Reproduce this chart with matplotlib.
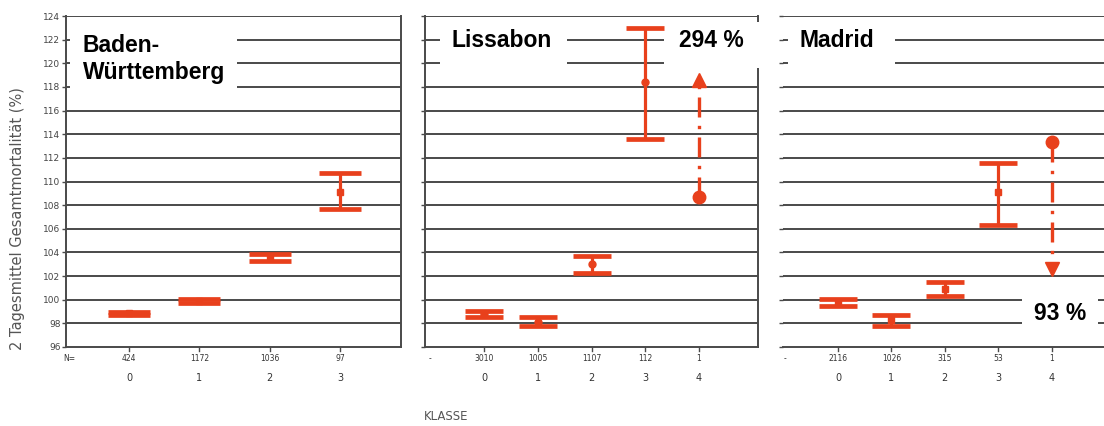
import numpy as np
import matplotlib
matplotlib.use('Agg')
import matplotlib.pyplot as plt
from matplotlib.patches import Rectangle

RED = '#e8401c'
GRID = '#4a4a4a'
GREY = '#555555'

# panel data (mean and confidence limits per KLASSE)
bw_klasse = [0, 1, 2, 3]
bw_n = ['424', '1172', '1036', '97']
bw_mean = [98.87, 99.9, 103.6, 109.1]
bw_lo = [98.73, 99.75, 103.3, 107.7]
bw_hi = [99.0, 100.08, 103.9, 110.7]

li_klasse = [0, 1, 2, 3, 4]
li_n = ['3010', '1005', '1107', '112', '1']
li_mean = [98.8, 98.1, 103.0, 118.4]
li_lo = [98.57, 97.75, 102.3, 113.6]
li_hi = [99.07, 98.5, 103.7, 123.0]
li_arrow = (108.7, 118.6)   # single day, value -> 294 %

ma_klasse = [0, 1, 2, 3, 4]
ma_n = ['2116', '1026', '315', '53', '1']
ma_mean = [99.8, 98.25, 100.9, 109.1]
ma_lo = [99.5, 97.8, 100.3, 106.3]
ma_hi = [100.08, 98.73, 101.5, 111.6]
ma_arrow = (113.3, 102.6)   # -> 93 %

yticks = np.arange(96, 125, 2)

fig = plt.figure(figsize=(11.04, 4.26), dpi=100)

H = 426.0
W = 1104.0
bottom = (H - 347) / H
height = (347 - 16) / H

def make_ax(x0, x1, xlim):
    ax = fig.add_axes([x0 / W, bottom, (x1 - x0) / W, height])
    ax.set_xlim(*xlim)
    ax.set_ylim(96, 124)
    ax.set_yticks(yticks)
    ax.set_xticks([])
    for y in yticks[1:]:
        ax.axhline(y, color=GRID, lw=1.4, zorder=1)
    for s in ax.spines.values():
        s.set_color(GRID)
        s.set_linewidth(1.4)
    ax.spines['top'].set_visible(False)
    ax.tick_params(axis='y', length=3, width=1, color=GRID, labelsize=6.5,
                   labelcolor='#444444', pad=1)
    return ax

def draw_bars(ax, klasse, mean, lo, hi, capsize, mk):
    n = len(mean)
    x = np.array(klasse[:n])
    m = np.array(mean)
    err = [m - np.array(lo), np.array(hi) - m]
    ax.errorbar(x, m, yerr=err, fmt=mk, ms=5, color=RED, ecolor=RED,
                elinewidth=2.3, capsize=capsize, capthick=3.4, zorder=4)

def draw_arrow(ax, xpos, start, end):
    ax.plot([xpos, xpos], [start, end], color=RED, lw=2.4,
            linestyle=(0, (6, 2.5, 1, 2.5)), zorder=4)
    ax.plot(xpos, start, 'o', color=RED, ms=9, zorder=5)
    ax.plot(xpos, end, '^' if end > start else 'v', color=RED, ms=10, zorder=5)

def x_labels(ax, klasse, nlab, first):
    tr = ax.get_xaxis_transform()
    ax.text(-1 if first != 'N=' else -0.85, -0.035, first, transform=tr,
            ha='center', va='center', fontsize=5.5, color='#333333')
    for k, nl in zip(klasse, nlab):
        ax.plot([k, k], [0, -0.012], transform=tr, color=GRID, lw=1,
                clip_on=False)
        ax.text(k, -0.035, nl, transform=tr, ha='center', va='center',
                fontsize=5.5, color='#333333')
        ax.text(k, -0.094, str(k), transform=tr, ha='center', va='center',
                fontsize=7, color='#333333')

def white_box(ax, x0, x1, y0, y1):
    ax.add_patch(Rectangle((x0, y0), x1 - x0, y1 - y0, facecolor='white',
                           edgecolor='none', zorder=3, clip_on=False))

TFONT = dict(fontsize=16.5, fontweight='bold', zorder=6, family='Liberation Sans')

# Baden-Württemberg
ax1 = make_ax(66, 401, (-0.9, 3.87))
draw_bars(ax1, bw_klasse, bw_mean, bw_lo, bw_hi, 15, 's')
x_labels(ax1, bw_klasse, bw_n, 'N=')
white_box(ax1, -0.85, 1.53, 117.0, 123.0)
ax1.text(-0.66, 122.45, 'Baden-\nWürttemberg', ha='left', va='top',
         linespacing=1.2, **TFONT)

# Lissabon
ax2 = make_ax(425, 758, (-1.1, 5.1))
draw_bars(ax2, li_klasse, li_mean, li_lo, li_hi, 13.5, 'o')
draw_arrow(ax2, 4, *li_arrow)
x_labels(ax2, li_klasse, li_n, '-')
ax2.set_yticklabels([])
white_box(ax2, -0.82, 1.55, 119.1, 122.9)
white_box(ax2, 3.35, 5.2, 119.6, 123.5)
ax2.text(-0.6, 121.95, 'Lissabon', ha='left', va='center', **TFONT)
ax2.text(4.24, 121.95, '294 %', ha='center', va='center', **TFONT)

# Madrid
ax3 = make_ax(783, 1104, (-1.03, 4.98))
ax3.spines['left'].set_visible(False)
ax3.spines['right'].set_visible(False)
draw_bars(ax3, ma_klasse, ma_mean, ma_lo, ma_hi, 13.5, 's')
draw_arrow(ax3, 4, *ma_arrow)
x_labels(ax3, ma_klasse, ma_n, '-')
ax3.set_yticklabels([])
white_box(ax3, -0.93, 1.07, 119.1, 122.9)
white_box(ax3, 3.44, 4.86, 97.0, 101.0)
ax3.text(-0.72, 121.95, 'Madrid', ha='left', va='center', **TFONT)
ax3.text(4.15, 98.8, '93 %', ha='center', va='center', **TFONT)

fig.text(18 / W, 1 - 219 / H, '2 Tagesmittel Gesamtmortalität (%)', rotation=90,
         ha='center', va='center', fontsize=10.5, color=GREY)
fig.text(424 / W, 1 - 417 / H, 'KLASSE', ha='left', va='center',
         fontsize=8.5, color=GREY)

fig.savefig('out.png', dpi=100)
